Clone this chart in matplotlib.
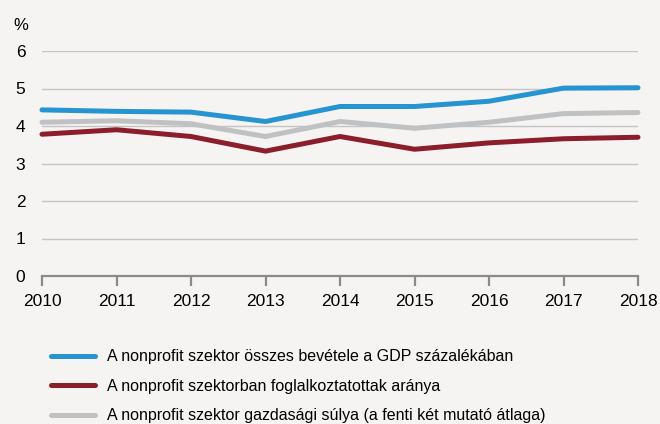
import matplotlib.pyplot as plt
from matplotlib import font_manager

years = [2010, 2011, 2012, 2013, 2014, 2015, 2016, 2017, 2018]
bevetel = [4.43, 4.39, 4.37, 4.12, 4.52, 4.52, 4.66, 5.01, 5.02]
foglalkoztatott = [3.78, 3.90, 3.72, 3.33, 3.72, 3.38, 3.55, 3.66, 3.70]
suly = [4.10, 4.14, 4.06, 3.72, 4.12, 3.94, 4.10, 4.33, 4.36]
labels = [
    "A nonprofit szektor összes bevétele a GDP százalékában",
    "A nonprofit szektorban foglalkoztatottak aránya",
    "A nonprofit szektor gazdasági súlya (a fenti két mutató átlaga)",
]
colors = ["#2694d0", "#8c1e2b", "#c0c1c3"]

names = {f.name for f in font_manager.fontManager.ttflist}
fam = ["Liberation Sans Narrow", "DejaVu Sans"] if "Liberation Sans Narrow" in names else ["Liberation Sans", "DejaVu Sans"]
plt.rcParams["font.family"] = fam

bg = "#f5f4f2"
fig = plt.figure(figsize=(6.6, 4.24), dpi=100, facecolor=bg)
ax = fig.add_axes([42 / 660, 148 / 424, 596 / 660, 225 / 424], facecolor=bg)

for vals, c, lab in zip([bevetel, foglalkoztatott, suly], colors, labels):
    ax.plot(years, vals, color=c, lw=3.6, label=lab, solid_capstyle="round",
            solid_joinstyle="round", clip_on=False)

ax.set_xlim(2010, 2018)
ax.set_ylim(0, 6)
ax.set_xticks(years)
ax.set_yticks(range(0, 7))
ax.yaxis.grid(True, color="#c4c4c4", lw=1)
ax.set_axisbelow(True)
for s in ["top", "right", "left"]:
    ax.spines[s].set_visible(False)
ax.spines["bottom"].set_color("#8a8a8a")
ax.spines["bottom"].set_linewidth(1.6)
ax.tick_params(axis="x", direction="out", length=7, width=1.6, color="#8a8a8a",
               labelsize=12.5, pad=6)
ax.tick_params(axis="y", length=0, labelsize=12.5, pad=12)

fig.text(13 / 660, 1 - 26 / 424, "%", fontsize=12, va="center", ha="left")

fig.legend(loc="upper left", bbox_to_anchor=(45 / 660, 1 - 343 / 424),
           frameon=False, fontsize=11.5, handlelength=2.75, handletextpad=0.75,
           labelspacing=0.9, borderaxespad=0)

fig.savefig("out.png", dpi=100, facecolor=bg)
